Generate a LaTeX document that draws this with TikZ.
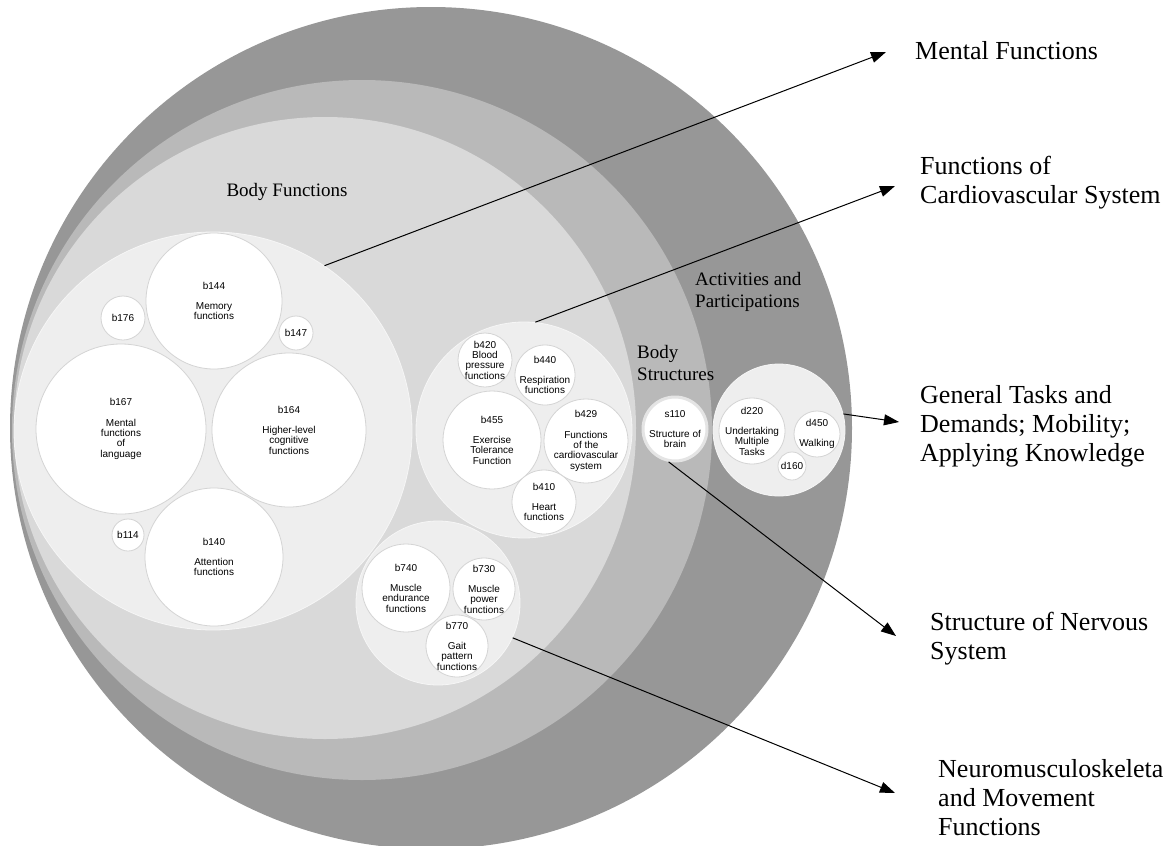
\documentclass[tikz,border=0pt]{standalone}
\usepackage{fontspec}
\setmainfont{Liberation Serif}
\newfontfamily\icffont{Liberation Sans}
\usetikzlibrary{arrows.meta}

\definecolor{apgrey}{HTML}{979797}
\definecolor{bsgrey}{HTML}{B9B9B9}
\definecolor{bfgrey}{HTML}{D9D9D9}
\definecolor{groupgrey}{HTML}{EEEEEE}
\definecolor{codeline}{HTML}{D4D4D4}
\definecolor{ringgrey}{HTML}{E4E4E4}

\begin{document}
\begin{tikzpicture}[x=1pt,y=-1pt]
\tikzstyle{layer} = [circle, inner sep=0pt]
\tikzstyle{group} = [circle, fill=groupgrey, draw=white!50!groupgrey, line width=0.8pt, inner sep=0pt]
\tikzstyle{code} = [circle, fill=white, draw=codeline, line width=0.8pt, inner sep=0pt]
\tikzstyle{codetext} = [align=center, inner sep=0pt, font=\icffont\fontsize{10}{10.3}\selectfont]
\tikzstyle{heading} = [anchor=base west, align=left, inner sep=0pt, font=\fontsize{19}{22}\selectfont]
\tikzstyle{target} = [anchor=base west, align=left, inner sep=0pt, font=\fontsize{26}{29}\selectfont]
\tikzstyle{pointer} = [line width=1pt, -{Triangle[length=15pt,width=11pt]}]

\clip (0,0) rectangle (1170,846);

% ICF components
\node[layer, fill=apgrey, minimum size=842] (actpart) at (431,428) {};
\node[layer, fill=bsgrey, minimum size=700] (bodystruct) at (362,430) {};
\node[layer, fill=bfgrey, minimum size=622] (bodyfunc) at (325,428) {};

% base of a multi-line node is its last line
\node[heading, anchor=base] (bflabel) at (287,196) {Body Functions};
\node[heading] (bslabel) at (637,380) {Body\\Structures};
\node[heading] (aplabel) at (695,307) {Activities and\\Participations};

% mental functions
\node[group, minimum size=398] (mentalgrp) at (213,431) {};
\node[code, minimum size=136, label={[codetext]center:{b144\\[10pt]Memory\\functions}}] (b144) at (214,301) {};
\node[code, minimum size=44, label={[codetext]center:b176}] (b176) at (123,318) {};
\node[code, minimum size=34, label={[codetext]center:b147}] (b147) at (296,333) {};
\node[code, minimum size=170, label={[codetext]center:{b167\\[10pt]Mental\\functions\\of\\language}}] (b167) at (121,429) {};
\node[code, minimum size=154, label={[codetext]center:{b164\\[10pt]Higher-level\\cognitive\\functions}}] (b164) at (289,430) {};
\node[code, minimum size=138, label={[codetext]center:{b140\\[10pt]Attention\\functions}}] (b140) at (214,557) {};
\node[code, minimum size=32, label={[codetext]center:b114}] (b114) at (128,535) {};

% cardiovascular functions
\node[group, minimum size=216] (cardiogrp) at (524,430) {};
\node[code, minimum size=54, label={[codetext]center:{b420\\Blood\\pressure\\functions}}] (b420) at (485,360) {};
\node[code, minimum size=60, label={[codetext]center:{b440\\[10pt]Respiration\\functions}}] (b440) at (545,375) {};
\node[code, minimum size=98, label={[codetext]center:{b455\\[10pt]Exercise\\Tolerance\\Function}}] (b455) at (492,440) {};
\node[code, minimum size=84, label={[codetext]center:{b429\\[10pt]Functions\\of the\\cardiovascular\\system}}] (b429) at (586,441) {};
\node[code, minimum size=64, label={[codetext]center:{b410\\[10pt]Heart\\functions}}] (b410) at (544,502) {};

% neuromusculoskeletal functions
\node[group, minimum size=164] (musclegrp) at (438,603) {};
\node[code, minimum size=88, label={[codetext]center:{b740\\[10pt]Muscle\\endurance\\functions}}] (b740) at (406,588) {};
\node[code, minimum size=62, label={[codetext]center:{b730\\[10pt]Muscle\\power\\functions}}] (b730) at (484,589) {};
\node[code, minimum size=62, label={[codetext]center:{b770\\[10pt]Gait\\pattern\\functions}}] (b770) at (457,646) {};

% body structures
\node[code, draw=ringgrey, line width=3pt, minimum size=64, label={[codetext]center:{s110\\[10pt]Structure of\\brain}}] (s110) at (675,429) {};

% activities and participations
\node[group, minimum size=132] (taskgrp) at (779,430) {};
\node[code, minimum size=66, label={[codetext]center:{d220\\[10pt]Undertaking\\Multiple\\Tasks}}] (d220) at (752,431) {};
\node[code, minimum size=46, label={[codetext]center:{d450\\[10pt]Walking}}] (d450) at (817,434) {};
\node[code, minimum size=28, label={[codetext]center:d160}] (d160) at (792,466) {};

% chapters
\node[target] (mentaltxt) at (915,59) {Mental Functions};
\node[target] (cardiotxt) at (920,203) {Functions of\\Cardiovascular System};
\node[target] (tasktxt) at (920,461) {General Tasks and\\Demands; Mobility;\\Applying Knowledge};
\node[target] (nervoustxt) at (930,659) {Structure of Nervous\\System};
\node[target] (muscletxt) at (938,835) {Neuromusculoskeleta\\and Movement\\Functions};

\coordinate (tipmental) at (886,52);
\coordinate (tipcardio) at (895,186);
\coordinate (tiptask) at (899,422);
\coordinate (tipnervous) at (896,636);
\coordinate (tipmuscle) at (895,793);

\draw[pointer] (mentalgrp.56) -- (tipmental);
\draw[pointer] (cardiogrp.84) -- (tipcardio);
\draw[pointer] (taskgrp.14) -- (tiptask);
\draw[pointer] (s110.259) -- (tipnervous);
\draw[pointer] (musclegrp.-25) -- (tipmuscle);
\end{tikzpicture}
\end{document}
